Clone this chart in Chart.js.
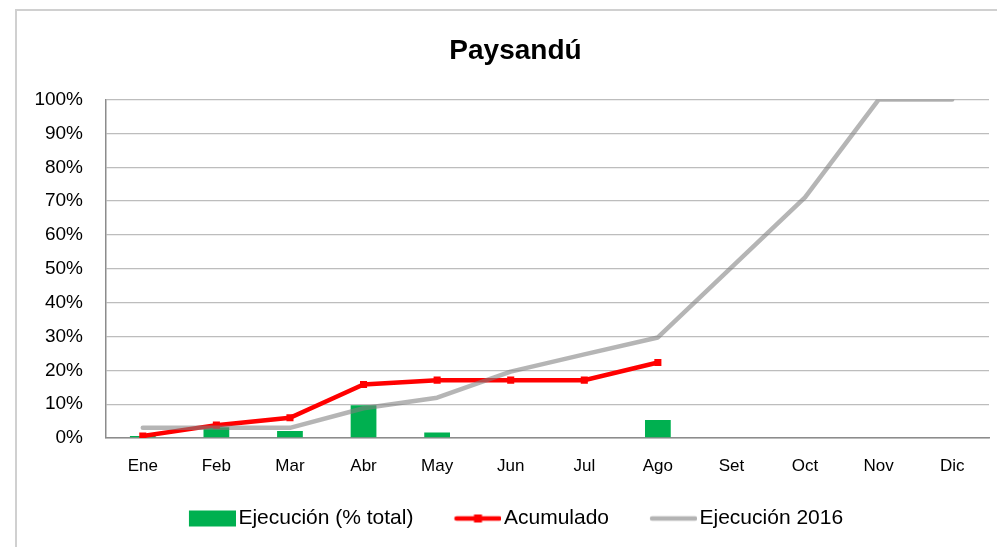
<!DOCTYPE html>
<html>
<head>
<meta charset="utf-8">
<script src="https://cdn.jsdelivr.net/npm/chart.js@4/dist/chart.umd.min.js"></script>
<style>
  html, body { margin: 0; padding: 0; background: #fff; overflow: hidden; }
  #frame { position: absolute; left: 15px; top: 9px; width: 1010px; height: 560px; border: 2px solid #d0d0d0; }
  #c { position: absolute; left: 0; top: 0; }
</style>
</head>
<body>
<div id="frame"></div>
<canvas id="c" width="997" height="547"></canvas>
<script>
const categories = ['Ene','Feb','Mar','Abr','May','Jun','Jul','Ago','Set','Oct','Nov','Dic'];
const ejecucion = [0.6, 3.2, 2.1, 9.7, 1.6, null, null, 5.3, null, null, null, null];
const acumulado = [0.6, 3.8, 6.0, 15.8, 17.1, 17.1, 17.1, 22.3, null, null, null, null];
const ejecucion2016 = [3.0, 3.0, 3.0, 8.8, 11.9, 19.6, 24.7, 29.7, 50.4, 71.1, 100, 100];
const seriesNames = ['Ejecución (% total)', 'Acumulado', 'Ejecución 2016'];
const yTicks = [0,10,20,30,40,50,60,70,80,90,100];

const FONT = "'Liberation Sans', Arial, sans-serif";
const GREEN = '#00b050';
const RED = '#ff0000';
const GRAY = 'rgba(127,127,127,0.58)';

function legendIcon(kind) {
  const W = 56, H = 18;
  const cv = document.createElement('canvas');
  cv.width = W; cv.height = H;
  const g = cv.getContext('2d');
  const x0 = 9, x1 = 56, cy = H / 2;
  if (kind === 'bar') {
    g.fillStyle = GREEN;
    g.fillRect(x0, 1, x1 - x0, 16);
  } else if (kind === 'red') {
    g.strokeStyle = RED; g.lineWidth = 4.5; g.lineCap = 'round';
    g.beginPath(); g.moveTo(x0 + 2, cy); g.lineTo(x1 - 2, cy); g.stroke();
    g.fillStyle = RED;
    g.fillRect((x0 + x1) / 2 - 4, cy - 4, 8, 8);
  } else {
    g.strokeStyle = '#b3b3b3'; g.lineWidth = 4.5; g.lineCap = 'round';
    g.beginPath(); g.moveTo(x0 + 2, cy); g.lineTo(x1 - 2, cy); g.stroke();
  }
  return cv;
}
const icons = [legendIcon('bar'), legendIcon('red'), legendIcon('gray')];

// let tick labels extend outside their scale boxes without clipping
const noLabelClip = {
  id: 'noLabelClip',
  beforeDraw(chart) {
    Object.values(chart.scales).forEach(s => { s._computeLabelArea = () => undefined; });
  }
};

new Chart(document.getElementById('c'), {
  data: {
    labels: categories,
    datasets: [
      {
        type: 'line', label: seriesNames[2], data: ejecucion2016,
        borderColor: GRAY, backgroundColor: GRAY, borderWidth: 4.5,
        pointRadius: 0, tension: 0, borderCapStyle: 'round', borderJoinStyle: 'round',
        order: 1
      },
      {
        type: 'line', label: seriesNames[1], data: acumulado,
        borderColor: RED, backgroundColor: RED, borderWidth: 4.5,
        pointStyle: 'rect', pointRadius: 5, pointBackgroundColor: RED, pointBorderWidth: 0,
        tension: 0, order: 2
      },
      {
        type: 'bar', label: seriesNames[0], data: ejecucion,
        backgroundColor: GREEN, borderWidth: 0,
        barPercentage: 0.35, categoryPercentage: 1.0, order: 3
      }
    ]
  },
  plugins: [noLabelClip],
  options: {
    responsive: false,
    animation: false,
    layout: { padding: { left: 42, right: 8, top: 0, bottom: 8 } },
    plugins: {
      tooltip: { enabled: false },
      title: {
        display: true, text: 'Paysandú', color: '#000',
        font: { family: FONT, size: 28, weight: 'bold' },
        padding: { top: 34, bottom: 32 }
      },
      legend: {
        position: 'bottom',
        labels: {
          usePointStyle: true, pointStyleWidth: 40, boxHeight: 18,
          padding: 40, color: '#000',
          font: { family: FONT, size: 21 },
          generateLabels: () => [2, 1, 0].map((di, i) => ({
            text: seriesNames[i], pointStyle: icons[i], datasetIndex: di,
            fillStyle: 'transparent', strokeStyle: 'transparent', lineWidth: 0, hidden: false
          }))
        }
      }
    },
    scales: {
      x: {
        offset: true,
        grid: { display: false, drawTicks: false },
        border: { display: true, color: '#8c8c8c', width: 1.5 },
        ticks: { color: '#000', font: { family: FONT, size: 17 }, padding: 18, maxRotation: 0 },
        afterFit: s => { s.height = 30; }
      },
      y: {
        min: 0, max: 100,
        afterBuildTicks: s => { s.ticks = yTicks.map(v => ({ value: v })); },
        grid: { color: '#bdbdbd', lineWidth: 1.3, drawTicks: false },
        border: { display: true, color: '#8c8c8c', width: 1.5 },
        ticks: { color: '#000', font: { family: FONT, size: 19 }, padding: 23, callback: v => v + '%' },
        afterFit: s => { s.width = 64; }
      }
    }
  }
});
</script>
</body>
</html>
